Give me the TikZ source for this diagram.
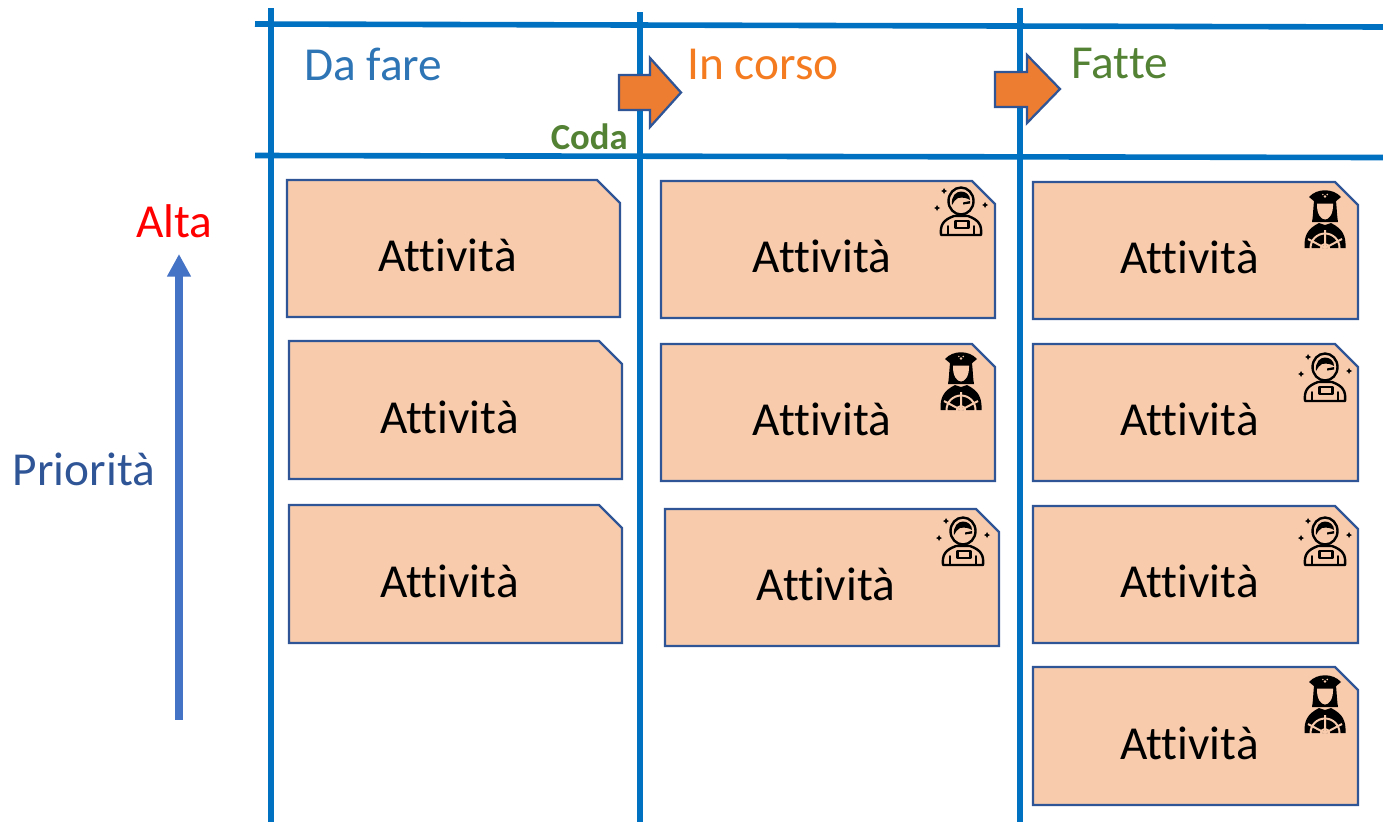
\documentclass[tikz,border=0pt]{standalone}
\usepackage{fontspec}
\setmainfont[Ligatures={NoCommon},Contextuals={NoAlternate}]{Carlito}
\usetikzlibrary{arrows.meta}
\definecolor{grid}{HTML}{0070C0}
\definecolor{cardfill}{HTML}{F8CBAD}
\definecolor{cardedge}{HTML}{2F5597}
\definecolor{orangefill}{HTML}{ED7D31}
\definecolor{headgreen}{HTML}{548235}
\definecolor{headblue}{HTML}{2E75B6}
\definecolor{headorange}{HTML}{F47B20}
\definecolor{prio}{HTML}{4472C4}
\tikzset{
  x=0.75pt,y=-0.75pt,
  gridline/.style={draw=grid,line width=4.2pt},
  cardshape/.style={draw=cardedge,fill=cardfill,line width=1.7pt,line join=miter},
  cardtext/.style={font=\fontsize{35.5pt}{42pt}\selectfont,text=black,inner sep=0pt},
  head/.style={font=\fontsize{35.5pt}{42pt}\selectfont,inner sep=0pt},
  flowarrow/.style={draw=cardedge,fill=orangefill,line width=1.7pt,line join=miter},
  ico/.style={draw=black,line width=1.4pt,fill=none,line join=round,line cap=round},
  astro/.pic={
    \draw[ico,line width=1.8pt] (0,0) ellipse (12.5 and 13.5);
    \fill[black] (-9,4) .. controls (-10,-5) and (-5,-9.5) .. (0,-9.5) .. controls (5,-9.5) and (9,-6) .. (9,-1) .. controls (6,-3) and (2,-4) .. (-3,-3) .. controls (-6,-2) and (-7,1) .. (-9,4) -- cycle;
    \fill[black] (2,1.5) -- (9,0) -- (9,2.5) -- (2,3.5) -- cycle;
    \draw[ico,line width=1.8pt] (-20,34) .. controls (-21,24) and (-18,19) .. (-7,15) -- (7,15) .. controls (18,19) and (21,24) .. (20,34) -- cycle;
    \draw[ico,line width=1.6pt] (-5.5,20) rectangle (7.5,27);
    \draw[ico] (-13,34) -- (-13,25) (13,34) -- (13,25);
    \foreach \px/\py in {-17/-10,-24/7,24/4}{
      \fill[black] (\px,\py-3) -- (\px+1,\py-1) -- (\px+3,\py) -- (\px+1,\py+1) -- (\px,\py+3) -- (\px-1,\py+1) -- (\px-3,\py) -- (\px-1,\py-1) -- cycle;
    }
  },
  captain/.pic={
    \fill[black] (-16,-16) .. controls (-8,-25) and (8,-25) .. (16,-16) -- (10,-11) -- (-10,-11) -- cycle;
    \fill[black] (-11,-12) .. controls (-12,-2) and (-12,4) .. (-13,9) -- (13,9) .. controls (12,4) and (12,-2) .. (11,-12) -- cycle;
    \fill[cardfill] (-8,-9.5) -- (8,-9.5) .. controls (8.5,1) and (4,6.5) .. (0,6.5) .. controls (-4,6.5) and (-8.5,1) .. (-8,-9.5) -- cycle;
    \fill[black] (-20.5,35) .. controls (-21,23) and (-18,16) .. (-6,10) -- (0,12) -- (6,10) .. controls (18,16) and (21,23) .. (20.5,35) -- cycle;
    \fill[cardfill] (-2.2,-18.5) circle (0.8) (2.2,-18.5) circle (0.8) (0,-16.5) circle (1.3);
    \begin{scope}
      \clip (-20.5,35) rectangle (20.5,15);
      \draw[cardfill,line width=1.5pt] (0,35) circle (14.5);
      \draw[cardfill,line width=1.5pt] (0,35) circle (4);
      \draw[cardfill,line width=1.5pt] (0,35) -- (-17,26) (0,35) -- (17,26) (0,35) -- (0,17);
    \end{scope}
  }
}
\newcommand{\cardbox}[5]{%
  \draw[cardshape] (#2,#3) -- (#4-23,#3) -- (#4,#3+23) -- (#4,#5) -- (#2,#5) -- cycle;
  \node[cardtext] (#1) at ({(#2+#4)/2-6},{(#3+#5)/2+7}) {Attività};
}
\begin{document}
\begin{tikzpicture}
\useasboundingbox (0,0) rectangle (1383,822);
% grid
\coordinate (va1) at (271,8);   \coordinate (va2) at (271,822);
\coordinate (vb1) at (640,12);  \coordinate (vb2) at (640,822);
\coordinate (vc1) at (1020,8);  \coordinate (vc2) at (1020,822);
\coordinate (ha1) at (255,24);  \coordinate (ha2) at (1383,27);
\coordinate (hb1) at (255,155.5); \coordinate (hb2) at (1383,157.5);
\draw[gridline] (va1) -- (va2);
\draw[gridline] (vb1) -- (vb2);
\draw[gridline] (vc1) -- (vc2);
\draw[gridline] (ha1) -- (ha2);
\draw[gridline] (hb1) -- (hb2);
% flow arrows
\draw[flowarrow] (619,75) -- (650,75) -- (650,58) -- (681,92.5) -- (650,127) -- (650,110) -- (619,110) -- cycle;
\draw[flowarrow] (995,72) -- (1027,72) -- (1027,55) -- (1060,89) -- (1027,123) -- (1027,107) -- (995,107) -- cycle;
% headings
\node[head,text=headblue,anchor=west] (dafare) at (304,64) {Da fare};
\node[head,text=headorange,anchor=west] (incorso) at (687,64) {In corso};
\node[head,text=headgreen,anchor=west] (fatte) at (1071,63) {Fatte};
\node[font=\bfseries\fontsize{27.5pt}{32pt}\selectfont,text=headgreen,inner sep=0pt,anchor=east] (coda) at (628,137) {Coda};
% priority
\node[head,text=red] (alta) at (174.5,221) {Alta};
\node[head,text=cardedge] (priorita) at (84,469) {Priorità};
\coordinate (pstart) at (179,720);
\coordinate (pend) at (179,254);
\draw[draw=prio,line width=6pt,-{Triangle[length=17pt,width=17pt]}] (pstart) -- (pend);
% cards
\cardbox{a1}{287}{180}{620}{317}
\cardbox{a2}{289}{341}{622}{479}
\cardbox{a3}{289}{505}{622}{643}
\cardbox{b1}{661}{181}{995}{318}
\cardbox{b2}{661}{344}{995}{481}
\cardbox{b3}{665}{509}{999}{646}
\cardbox{c1}{1033}{182}{1358}{319}
\cardbox{c2}{1033}{344}{1358}{481}
\cardbox{c3}{1033}{506}{1358}{643}
\cardbox{c4}{1033}{667}{1358}{805}
% icons
\pic at (961,201) {astro};
\pic at (963,531) {astro};
\pic at (1325,367) {astro};
\pic at (1325,531) {astro};
\pic at (1325,213) {captain};
\pic at (961,375) {captain};
\pic at (1325,698) {captain};
\end{tikzpicture}
\end{document}
